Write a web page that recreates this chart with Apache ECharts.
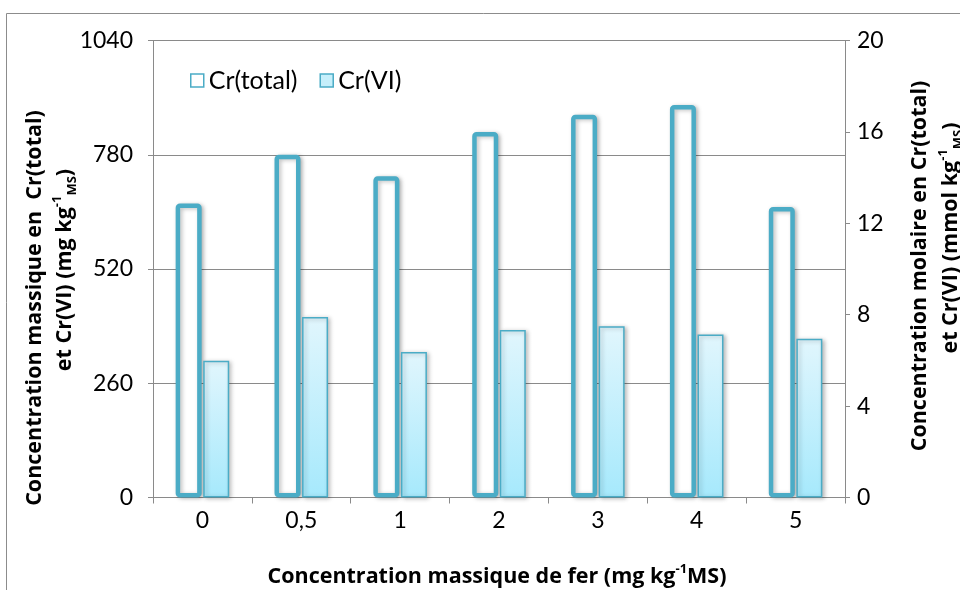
<!DOCTYPE html>
<html>
<head>
<meta charset="utf-8">
<script src="https://cdn.jsdelivr.net/npm/echarts@6/dist/echarts.min.js"></script>
<style>
  html, body { margin: 0; padding: 0; background: #ffffff; }
  #chart { width: 960px; height: 590px; }
</style>
</head>
<body>
<div id="chart"></div>
<script>
// Iron dose applied to the soil (mg kg-1 dry matter)
const categories = ['0', '0,5', '1', '2', '3', '4', '5'];
// Mass concentration of total chromium (mg kg-1 MS)
const crTotal = [669, 780, 731, 832, 871, 893, 661];
// Mass concentration of hexavalent chromium (mg kg-1 MS)
const crVI = [311, 411, 331, 381, 390, 371, 361];
// Left (mass) and right (molar) axis ranges
const massTicks = { min: 0, max: 1040, interval: 260 };
const molarTicks = { min: 0, max: 20, interval: 4 };

const FONT = 'Lato, "Open Sans", sans-serif';
const TITLE_FONT = '"Open Sans", Lato, sans-serif';
const TEAL = '#4BACC6';
const GRID_GREY = '#8a8a8a';

const chart = echarts.init(document.getElementById('chart'), null, { renderer: 'canvas' });

const titleRich = {
  b: { fontFamily: TITLE_FONT, fontWeight: 700, fontSize: 21.5, color: '#000', lineHeight: 28 },
  sup: { fontFamily: TITLE_FONT, fontWeight: 700, fontSize: 13, color: '#000', verticalAlign: 'top', lineHeight: 28 },
  sub: { fontFamily: TITLE_FONT, fontWeight: 700, fontSize: 13, color: '#000', verticalAlign: 'bottom', lineHeight: 24 }
};

function titleText(x, y, text, rotated) {
  return {
    type: 'text',
    x: x, y: y,
    rotation: rotated ? Math.PI / 2 : 0,
    style: {
      text: text,
      rich: titleRich,
      fontFamily: TITLE_FONT,
      fontWeight: 700,
      fontSize: 21.5,
      align: 'center',
      verticalAlign: 'middle'
    }
  };
}

const option = {
  backgroundColor: '#ffffff',
  animation: false,
  textStyle: { fontFamily: FONT },
  grid: { left: 153, right: 115, top: 40.5, bottom: 92.5, containLabel: false },
  legend: {
    left: 185, top: 63,
    itemWidth: 13, itemHeight: 13, itemGap: 22,
    icon: 'rect',
    textStyle: { fontFamily: FONT, fontSize: 25, color: '#000' },
    data: [
      { name: 'Cr(total)', itemStyle: { color: '#ffffff', borderColor: TEAL, borderWidth: 1.5 } },
      { name: 'Cr(VI)', itemStyle: { color: '#c6effb', borderColor: TEAL, borderWidth: 1.5 } }
    ]
  },
  xAxis: {
    type: 'category',
    data: categories,
    boundaryGap: true,
    axisLine: { lineStyle: { color: GRID_GREY, width: 1 } },
    axisTick: { show: true, length: 6, lineStyle: { color: GRID_GREY } },
    axisLabel: { fontFamily: FONT, fontSize: 23, color: '#000', margin: 12 }
  },
  yAxis: [
    {
      type: 'value',
      min: massTicks.min, max: massTicks.max, interval: massTicks.interval,
      position: 'left',
      axisLine: { show: true, lineStyle: { color: GRID_GREY, width: 1 } },
      axisTick: { show: true, length: 5, lineStyle: { color: GRID_GREY } },
      axisLabel: { fontFamily: FONT, fontSize: 23, color: '#000', margin: 20, formatter: v => String(v) },
      splitLine: { show: true, lineStyle: { color: GRID_GREY, width: 1.2 } }
    },
    {
      type: 'value',
      min: molarTicks.min, max: molarTicks.max, interval: molarTicks.interval,
      position: 'right',
      axisLine: { show: true, lineStyle: { color: GRID_GREY, width: 1 } },
      axisTick: { show: true, length: 5, lineStyle: { color: GRID_GREY } },
      axisLabel: { fontFamily: FONT, fontSize: 23, color: '#000', margin: 12, formatter: v => String(v) },
      splitLine: { show: false }
    }
  ],
  series: [
    {
      name: 'Cr(total)',
      type: 'bar',
      yAxisIndex: 0,
      data: crTotal,
      barWidth: 26,
      barGap: '6%',
      itemStyle: {
        color: '#ffffff',
        borderColor: TEAL,
        borderWidth: 4.5,
        borderRadius: 2,
        shadowBlur: 4,
        shadowOffsetX: 2,
        shadowOffsetY: 1,
        shadowColor: 'rgba(0,0,0,0.25)'
      }
    },
    {
      name: 'Cr(VI)',
      type: 'bar',
      yAxisIndex: 0,
      data: crVI,
      barWidth: 26,
      itemStyle: {
        color: new echarts.graphic.LinearGradient(0, 0, 0, 1, [
          { offset: 0, color: '#e1f6fd' },
          { offset: 1, color: '#a6e9fc' }
        ]),
        borderColor: TEAL,
        borderWidth: 1.5,
        shadowBlur: 4,
        shadowOffsetX: 2,
        shadowOffsetY: 1,
        shadowColor: 'rgba(0,0,0,0.25)'
      }
    }
  ],
  graphic: [
    {
      type: 'rect',
      silent: true,
      shape: { x: 6.5, y: 13.5, width: 1000, height: 1000 },
      style: { fill: 'none', stroke: '#8c8c8c', lineWidth: 1 }
    },
    titleText(35, 308, '{b|Concentration massique en  Cr(total)}', true),
    titleText(65, 270, '{b|et Cr(VI) (mg kg}{sup|-1}{sub|MS}{b|)}', true),
    titleText(920, 266, '{b|Concentration molaire en Cr(total)}', true),
    titleText(951, 238, '{b|et Cr(VI) (mmol kg}{sup|-1}{sub|MS}{b|)}', true),
    titleText(497, 577, '{b|Concentration massique de fer (mg kg}{sup|-1}{b|MS)}', false)
  ]
};

chart.setOption(option);
</script>
</body>
</html>
